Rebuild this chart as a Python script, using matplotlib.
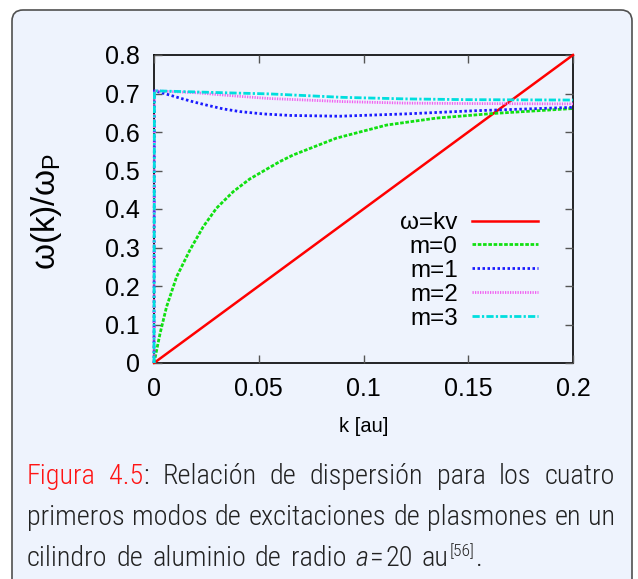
import matplotlib
matplotlib.use('Agg')
import matplotlib.pyplot as plt
from matplotlib.patches import FancyBboxPatch
from matplotlib.transforms import IdentityTransform
from matplotlib import font_manager as fm

# ---------------- data ----------------
k_kv = [0.0, 0.2]
w_kv = [0.0, 0.8]

k_m0 = [0, 0.0029, 0.006, 0.0108, 0.0171, 0.0235, 0.0298, 0.0378, 0.0457, 0.06,
        0.0663, 0.087, 0.111, 0.1346, 0.1616, 0.2]
w_m0 = [0, 0.077, 0.146, 0.224, 0.293, 0.354, 0.402, 0.445, 0.478, 0.523,
        0.540, 0.584, 0.618, 0.636, 0.648, 0.661]

k_m1 = [0, 0.0002, 0.005, 0.0124, 0.019, 0.025, 0.033, 0.041, 0.052, 0.065,
        0.0886, 0.12, 0.152, 0.2]
w_m1 = [0, 0.707, 0.700, 0.688, 0.678, 0.670, 0.660, 0.653, 0.647, 0.643,
        0.641, 0.647, 0.655, 0.664]

k_m2 = [0, 0.0002, 0.02, 0.04, 0.055, 0.09, 0.12, 0.15, 0.2]
w_m2 = [0, 0.707, 0.702, 0.693, 0.687, 0.679, 0.675, 0.674, 0.673]

k_m3 = [0, 0.0002, 0.04, 0.055, 0.09, 0.12, 0.15, 0.2]
w_m3 = [0, 0.707, 0.701, 0.699, 0.690, 0.686, 0.684, 0.683]

labels = ['ω=kv', 'm=0', 'm=1', 'm=2', 'm=3']
xticks = [0, 0.05, 0.1, 0.15, 0.2]
xticklabels = ['0', '0.05', '0.1', '0.15', '0.2']
yticks = [0, 0.1, 0.2, 0.3, 0.4, 0.5, 0.6, 0.7, 0.8]
yticklabels = ['0', '0.1', '0.2', '0.3', '0.4', '0.5', '0.6', '0.7', '0.8']

# ---------------- figure ----------------
plt.rcParams['font.family'] = ['Liberation Sans', 'DejaVu Sans']
plt.rcParams['mathtext.default'] = 'regular'
W, H = 638, 579
fig = plt.figure(figsize=(W / 100, H / 100), dpi=100)
fig.patch.set_facecolor('white')
bg = '#eef3fd'

box = FancyBboxPatch((12, -40), 620, (H - 10) + 40,
                     boxstyle='round,pad=0,rounding_size=11',
                     transform=IdentityTransform(), facecolor=bg,
                     edgecolor='#505050', lw=1.2, zorder=-5)
fig.add_artist(box)

ax = fig.add_axes([154 / W, 1 - 363 / H, 419 / W, 308 / H])
ax.patch.set_visible(False)

lw = 2.0
ax.plot(k_kv, w_kv, color='#ff0000', lw=1.8, label=labels[0], clip_on=False)
ax.plot(k_m0, w_m0, color='#11e011', lw=lw, dashes=(1.3, 0.6), label=labels[1], clip_on=False)
ax.plot(k_m1, w_m1, color='#1a1aff', lw=lw, dashes=(0.9, 0.9), label=labels[2], clip_on=False)
ax.plot(k_m2, w_m2, color='#f060f0', lw=lw, dashes=(0.45, 0.45), label=labels[3], clip_on=False)
ax.plot(k_m3, w_m3, color='#00dede', lw=lw, dashes=(2.6, 0.8, 0.8, 0.8), label=labels[4],
        clip_on=False)

ax.set_xlim(0, 0.2)
ax.set_ylim(0, 0.8)
ax.set_xticks(xticks)
ax.set_xticklabels(xticklabels)
ax.set_yticks(yticks)
ax.set_yticklabels(yticklabels)
ax.tick_params(direction='in', top=True, right=True, length=6, width=1,
               color='#555555', labelsize=18, pad=10)
for s in ax.spines.values():
    s.set_linewidth(1.2)
    s.set_color('black')
    s.set_zorder(1)

fig.text(47 / W, 1 - 212 / H, 'ω(k)/ω$_{P}$', rotation=90, fontsize=24,
         ha='center', va='center')
fig.text(364 / W, 1 - 426 / H, 'k [au]', fontsize=14.5, ha='center', va='center')

ax.legend(loc='upper right', bbox_to_anchor=(538 / W, 1 - 212 / H),
          bbox_transform=fig.transFigure, frameon=False, markerfirst=False,
          handlelength=2.7, handletextpad=0.6, labelspacing=0.08,
          borderpad=0, borderaxespad=0, fontsize=17.5)

# ---------------- caption ----------------
def pick(cands):
    for c in cands:
        try:
            fm.findfont(fm.FontProperties(family=c), fallback_to_default=False)
            return c
        except Exception:
            pass
    return 'DejaVu Sans'

cap_font = pick(['Roboto Condensed', 'Roboto', 'Lato'])
renderer = fig.canvas.get_renderer()
IT = IdentityTransform()
txt_col = '#222222'
red = '#ff1414'


def measure(s, props):
    t = fig.text(0, 0, s, transform=IT, **props)
    w = t.get_window_extent(renderer).width
    t.remove()
    return w


def make_base(size):
    return dict(family=cap_font, fontsize=size, color=txt_col, weight='light')


def caption_words(base):
    redp = dict(base, color=red)
    ital = dict(base, style='italic')
    sup = dict(base, fontsize=base['fontsize'] * 0.62)
    line1 = [[('Figura', redp, 0, 0)], [('4.5', redp, 0, 0), (':', base, 0, 0)],
             [('Relación', base, 0, 0)], [('de', base, 0, 0)], [('dispersión', base, 0, 0)],
             [('para', base, 0, 0)], [('los', base, 0, 0)], [('cuatro', base, 0, 0)]]
    line2 = [[(w, base, 0, 0)] for w in
             'primeros modos de excitaciones de plasmones en un'.split()]
    line3 = [[(w, base, 0, 0)] for w in 'cilindro de aluminio de radio'.split()]
    line3 += [[('a', ital, 0, 0), ('=', base, 2, 0), ('20', base, 2, 0)],
              [('au', base, 0, 0), ('[56]', sup, 1, 10), ('.', base, 1, 0)]]
    return line1, line2, line3


def word_width(word):
    return sum(measure(s, p) + dx for s, p, dx, dy in word) + 0.0


def draw_line(words, x0, x1, yb, justify, space):
    widths = [word_width(w) for w in words]
    if justify:
        gap = (x1 - x0 - sum(widths)) / (len(words) - 1)
    else:
        gap = space
    x = x0
    for w, ww in zip(words, widths):
        xx = x
        for s, p, dx, dy in w:
            xx += dx
            t = fig.text(xx, H - yb + dy, s, transform=IT, ha='left', va='baseline', **p)
            xx += t.get_window_extent(renderer).width
        x += ww + gap


# fit the font size to the justified line 2, then enlarge to the reference height
size = 16
base = make_base(size)
l1, l2, l3 = caption_words(base)
w2 = sum(word_width(w) for w in l2)
size = max(12.0, min(22, 1.08 * size * (588 - 7 * 13) / w2))
base = make_base(size)
l1, l2, l3 = caption_words(base)
sp = 1.4 * (measure('x x', base) - measure('xx', base))

x0, x1 = 27, 615
draw_line(l1, x0, x1, 484, True, sp)
draw_line(l2, x0, x1, 525, True, sp)
draw_line(l3, x0, x1, 566, False, sp)

fig.savefig('out.png', dpi=100, facecolor='white')
